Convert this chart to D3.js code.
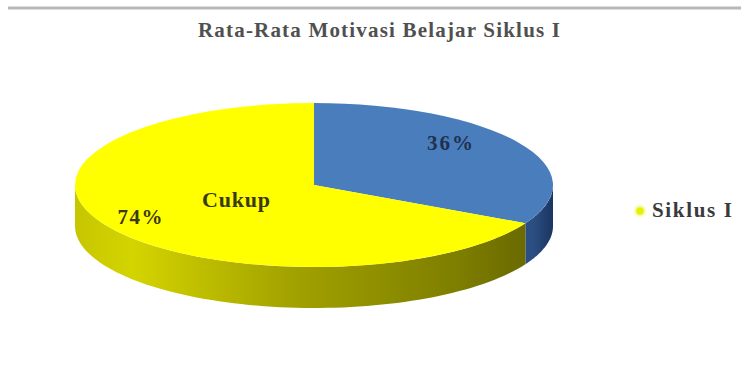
<!DOCTYPE html>
<html>
<head>
<meta charset="utf-8">
<script src="https://cdn.jsdelivr.net/npm/d3@7"></script>
<style>
  html, body { margin: 0; padding: 0; background: #ffffff; }
  svg { display: block; }
</style>
</head>
<body>
<script>
// ---- data ----
const title = "Rata-Rata Motivasi Belajar Siklus I";
const sliceNames = ["", "Cukup"];
const sliceValues = [36, 74];
const sliceLabels = ["36%", "74%"];
const legendLabels = ["Siklus I"];

// ---- layout ----
const W = 741, H = 370;
const cx = 314, cy = 185, rx = 239, ry = 82, depth = 41;

const svg = d3.select("body").append("svg").attr("width", W).attr("height", H);
const defs = svg.append("defs");

const topColors = ["#4a7dbb", "#ffff00"];

// side gradients
const gY = defs.append("linearGradient").attr("id", "sideY")
  .attr("gradientUnits", "userSpaceOnUse")
  .attr("x1", cx - rx).attr("x2", cx + rx).attr("y1", 0).attr("y2", 0);
[[0, "#c6c600"], [0.12, "#d4d400"], [0.45, "#a2a200"], [0.8, "#7e7e00"], [1, "#626200"]]
  .forEach(s => gY.append("stop").attr("offset", s[0]).attr("stop-color", s[1]));
const gB = defs.append("linearGradient").attr("id", "sideB")
  .attr("gradientUnits", "userSpaceOnUse")
  .attr("x1", cx + rx - 20).attr("x2", cx + rx).attr("y1", 0).attr("y2", 0);
[[0, "#2b4f82"], [1, "#1b3560"]]
  .forEach(s => gB.append("stop").attr("offset", s[0]).attr("stop-color", s[1]));
const sideFills = ["url(#sideB)", "url(#sideY)"];

// legend glow
const glow = defs.append("radialGradient").attr("id", "glow");
glow.append("stop").attr("offset", 0).attr("stop-color", "#e8f000");
glow.append("stop").attr("offset", 0.5).attr("stop-color", "#eef560").attr("stop-opacity", 0.8);
glow.append("stop").attr("offset", 1).attr("stop-color", "#ffffff").attr("stop-opacity", 0);

// top rule line
svg.append("line").attr("x1", 8).attr("x2", W).attr("y1", 8).attr("y2", 8)
  .attr("stroke", "#b8b8b8").attr("stroke-width", 3);

const serif = "Liberation Serif, Times New Roman, serif";

// title
svg.append("text").attr("x", 379).attr("y", 37).attr("text-anchor", "middle")
  .attr("font-family", serif)
  .attr("font-size", 21).attr("font-weight", "bold").attr("fill", "#505050")
  .attr("textLength", 362).attr("lengthAdjust", "spacing")
  .text(title);

// pie
const pie = d3.pie().sort(null).value(d => d)(sliceValues);

const ex = a => cx + rx * Math.sin(a);
const ey = a => cy - ry * Math.cos(a);

// sides (front-facing part: angle between PI/2 and 3PI/2)
const line = d3.line().x(d => d[0]).y(d => d[1]);
pie.forEach((p, i) => {
  const a0 = Math.max(p.startAngle, Math.PI / 2);
  const a1 = Math.min(p.endAngle, 3 * Math.PI / 2);
  if (a1 <= a0) return;
  const n = 80;
  const angles = d3.range(n + 1).map(k => a0 + (a1 - a0) * k / n);
  const pts = angles.map(a => [ex(a), ey(a)])
    .concat(angles.slice().reverse().map(a => [ex(a), ey(a) + depth]));
  svg.append("path").attr("d", line(pts) + "Z").attr("fill", sideFills[i]);
});

// top faces
const arc = d3.arc().innerRadius(0).outerRadius(rx);
const topG = svg.append("g").attr("transform", `translate(${cx},${cy}) scale(1,${ry / rx})`);
topG.selectAll("path").data(pie).join("path")
  .attr("d", arc).attr("fill", (d, i) => topColors[i]);

// labels
svg.append("text").attr("x", 450).attr("y", 150).attr("text-anchor", "middle")
  .attr("font-family", serif).attr("font-size", 21).attr("font-weight", "bold")
  .attr("fill", "#1f3050").attr("textLength", 46).attr("lengthAdjust", "spacing")
  .text(sliceLabels[0]);
svg.append("text").attr("x", 236).attr("y", 207).attr("text-anchor", "middle")
  .attr("font-family", serif).attr("font-size", 22).attr("font-weight", "bold")
  .attr("fill", "#3a3a10").attr("textLength", 68).attr("lengthAdjust", "spacing")
  .text(sliceNames[1]);
svg.append("text").attr("x", 140).attr("y", 224).attr("text-anchor", "middle")
  .attr("font-family", serif).attr("font-size", 21).attr("font-weight", "bold")
  .attr("fill", "#3a3a10").attr("textLength", 45).attr("lengthAdjust", "spacing")
  .text(sliceLabels[1]);

// legend
svg.append("circle").attr("cx", 640).attr("cy", 211).attr("r", 8).attr("fill", "url(#glow)");
svg.append("circle").attr("cx", 640).attr("cy", 211).attr("r", 3.5).attr("fill", "#e6f000");
svg.append("text").attr("x", 652).attr("y", 217)
  .attr("font-family", serif).attr("font-size", 21).attr("font-weight", "bold")
  .attr("fill", "#3a3a3a").attr("textLength", 80).attr("lengthAdjust", "spacing")
  .text(legendLabels[0]);
</script>
</body>
</html>
